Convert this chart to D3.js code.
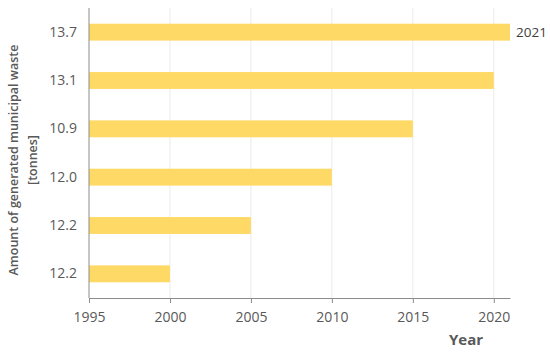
<!DOCTYPE html>
<html>
<head>
<meta charset="utf-8">
<script src="https://cdn.jsdelivr.net/npm/d3@7"></script>
<style>
  body { margin: 0; background: #fff; }
</style>
</head>
<body>
<svg width="550" height="353" font-family="'Open Sans', sans-serif"></svg>
<script>
  // amount of waste (tonnes) shown as category labels, top to bottom
  var waste = ["13.7", "13.1", "10.9", "12.0", "12.2", "12.2"];
  // year each bar reaches
  var years = [2021, 2020, 2015, 2010, 2005, 2000];
  var xTicks = [1995, 2000, 2005, 2010, 2015, 2020];
  var labelled = ["2021", "", "", "", "", ""];

  var svg = d3.select("svg");
  var pLeft = 89, pRight = 510, pTop = 8, pBottom = 298;

  var x = d3.scaleLinear().domain([1995, 2021]).range([pLeft, pRight]);
  var y = d3.scaleBand().domain(d3.range(waste.length)).range([pTop, pBottom]).paddingInner(0.65).paddingOuter(0.325);

  // grid
  svg.append("g").selectAll("line")
    .data(xTicks.slice(1))
    .enter().append("line")
    .attr("x1", function (d) { return x(d); })
    .attr("x2", function (d) { return x(d); })
    .attr("y1", pTop).attr("y2", pBottom)
    .attr("stroke", "#ebebeb").attr("stroke-width", 1);

  // bars
  svg.append("g").selectAll("rect")
    .data(years)
    .enter().append("rect")
    .attr("x", x(1995))
    .attr("y", function (d, i) { return y(i); })
    .attr("width", function (d) { return x(d) - x(1995); })
    .attr("height", y.bandwidth())
    .attr("fill", "#ffd966");

  // label at end of bar
  svg.append("g").selectAll("text")
    .data(labelled)
    .enter().append("text")
    .attr("x", function (d, i) { return x(years[i]) + 6; })
    .attr("y", function (d, i) { return y(i) + y.bandwidth() / 2; })
    .attr("dy", "0.35em")
    .attr("font-size", 13.5)
    .attr("fill", "#404040")
    .text(function (d) { return d; });

  // x axis
  var xAxis = svg.append("g")
    .attr("transform", "translate(0," + pBottom + ")")
    .call(d3.axisBottom(x).tickValues(xTicks).tickFormat(d3.format("d")).tickSize(5).tickSizeOuter(0).tickPadding(9));
  xAxis.select(".domain").attr("stroke", "#8c8c8c");
  xAxis.selectAll(".tick line").attr("stroke", "#8c8c8c");
  xAxis.selectAll("text").attr("font-size", 14).attr("fill", "#595959").attr("font-family", "'Open Sans', sans-serif");

  // y axis
  var yAxis = svg.append("g")
    .attr("transform", "translate(" + pLeft + ",0)")
    .call(d3.axisLeft(y).tickFormat(function (i) { return waste[i]; }).tickSize(0).tickPadding(12));
  yAxis.select(".domain").attr("stroke", "#8c8c8c").attr("d", "M0," + pTop + "V" + pBottom);
  yAxis.selectAll("text").attr("font-size", 14).attr("fill", "#595959").attr("font-family", "'Open Sans', sans-serif");

  // titles
  var yt = svg.append("text")
    .attr("transform", "translate(14,160) rotate(-90)")
    .attr("text-anchor", "middle")
    .attr("font-size", 12.5)
    .attr("font-weight", 600)
    .attr("fill", "#595959");
  yt.append("tspan").attr("x", 0).attr("dy", "0.35em").text("Amount of generated municipal waste");
  yt.append("tspan").attr("x", 0).attr("dy", "1.5em").text("[tonnes]");

  svg.append("text")
    .attr("x", 466).attr("y", 345)
    .attr("text-anchor", "middle")
    .attr("font-size", 15)
    .attr("font-weight", 700)
    .attr("fill", "#595959")
    .text("Year");
</script>
</body>
</html>
